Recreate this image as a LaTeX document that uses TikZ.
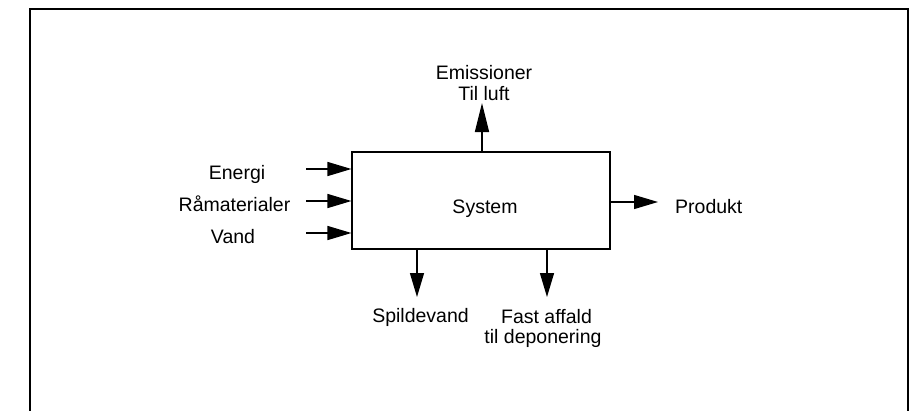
\documentclass[tikz,border=0pt]{standalone}
\usepackage{fontspec}
\setmainfont{Liberation Sans}
\usetikzlibrary{arrows.meta}
\begin{document}
\begin{tikzpicture}[x=1pt,y=-1pt,
  lbl/.style={font=\fontsize{19.5}{21}\selectfont, inner sep=0pt, align=center},
  arr/.style={line width=1.4pt, -{Triangle[length=24pt,width=14pt]}},
  arrup/.style={line width=1.4pt, -{Triangle[length=29pt,width=14pt]}}]
\useasboundingbox (0,0) rectangle (919,410);
% outer frame (open at bottom)
\draw[line width=1.6pt] (30,414) -- (30,9) -- (908,9) -- (908,414);
% system box
\node[draw, line width=1.1pt, minimum width=258pt, minimum height=97pt, inner sep=0pt] (sys) at (481,200.5) {};
\node[lbl, anchor=base] (systxt) at (485,213) {System};
% inputs
\coordinate (ein) at (306,169);
\coordinate (rin) at (306,201);
\coordinate (vin) at (306,233);
\draw[arr] (ein) -- (ein -| sys.west);
\draw[arr] (rin) -- (rin -| sys.west);
\draw[arr] (vin) -- (vin -| sys.west);
\node[lbl, anchor=base] (energi) at (237,179) {Energi};
\node[lbl, anchor=base] (ramat) at (234.5,211) {Råmaterialer};
\node[lbl, anchor=base] (vand) at (233,243) {Vand};
% emission up
\coordinate (upt) at (482,103);
\draw[arrup] (upt |- sys.north) -- (upt);
\node[lbl, anchor=base] (emis) at (484,79) {Emissioner};
\node[lbl, anchor=base] (luft) at (484,100) {Til luft};
% product
\coordinate (prt) at (658,202);
\draw[arr] (prt -| sys.east) -- (prt);
\node[lbl, anchor=base west] (prod) at (675,213) {Produkt};
% outputs down
\coordinate (spt) at (417,297);
\coordinate (fat) at (547,297);
\draw[arr] (spt |- sys.south) -- (spt);
\draw[arr] (fat |- sys.south) -- (fat);
\node[lbl, anchor=base] (spild) at (420.5,322) {Spildevand};
\node[lbl, anchor=base] (fast) at (546.5,323) {Fast affald};
\node[lbl, anchor=base] (depo) at (543,343) {til deponering};
\end{tikzpicture}
\end{document}
